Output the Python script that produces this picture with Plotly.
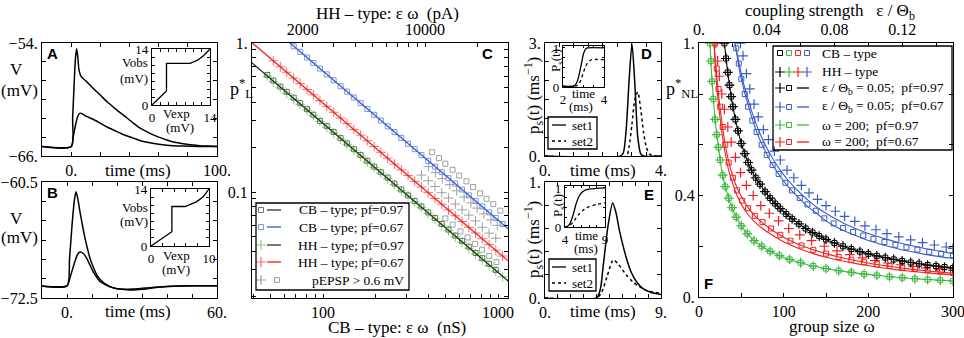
import plotly.graph_objects as go

W, H = 964, 338
SERIF = "Liberation Serif"
SANS = "Liberation Sans"

# ---------------- data ----------------
# Panel A (membrane potential, mV vs ms)
a_t_big = [-20, 0, 1, 2, 3, 3.8, 4.6, 5.4, 7, 10.6, 15, 19.8, 25, 31.2, 37, 42.6, 48, 54, 60, 65.5, 71, 76.9, 82, 88.3, 94, 100]
a_v_big = [-65.0, -65.0, -62.0, -58.5, -55.5, -54.6, -55.6, -56.9, -57.6, -58.1, -58.8, -59.5, -60.3, -61.1, -61.8, -62.5,
           -63.1, -63.6, -64.0, -64.3, -64.55, -64.7, -64.8, -64.9, -64.95, -65.0]
a_t_small = [-20, 0, 1.5, 3, 4.5, 6, 8, 10.6, 15, 19.8, 25, 31.2, 37, 42.6, 48, 54, 60, 65.5, 76.9, 88.3, 100]
a_v_small = [-65.0, -65.0, -63.9, -62.7, -61.8, -61.45, -61.55, -61.8, -62.1, -62.5, -62.95, -63.4, -63.8, -64.1,
             -64.4, -64.6, -64.75, -64.85, -64.95, -65.0, -65.0]
a_in_vexp = [0, 3.5, 3.5, 9.2, 11.0, 12.5, 14]
a_in_vobs = [0, 3.5, 10.4, 10.4, 11.2, 12.4, 14]

# Panel B
b_t_big = [-10, 0, 1, 2, 3, 3.6, 4.3, 5.2, 6.2, 7.2, 8.2, 9.2, 10.5, 11.9, 13.9, 15.9, 17.9, 19.9, 23, 26.5, 30, 33.2,
           36.5, 39.9, 45, 50, 55, 60]
b_v_big = [-71.25, -71.25, -68.5, -65.0, -62.3, -61.5, -62.2, -63.6, -65.0, -66.3, -67.4, -68.4, -69.3, -70.1, -70.75,
           -71.15, -71.4, -71.55, -71.6, -71.57, -71.5, -71.43, -71.36, -71.3, -71.26, -71.24, -71.23, -71.23]
b_t_small = [-10, 0, 1, 1.9, 3.2, 4.2, 5.2, 6.5, 7.9, 9.2, 10.5, 11.9, 13.2, 15.2, 17.2, 19.2, 21.2, 24, 26.5, 30,
             33.2, 36.5, 39.9, 45, 50, 60]
b_v_small = [-71.25, -71.25, -70.6, -69.8, -68.7, -68.0, -67.75, -67.9, -68.4, -69.1, -69.8, -70.35, -70.8, -71.1,
             -71.33, -71.48, -71.57, -71.65, -71.67, -71.6, -71.5, -71.4, -71.3, -71.25, -71.23, -71.23]
b_in_vexp = [0, 3.6, 3.6, 5.9, 7.9, 9.0, 10]
b_in_vobs = [0, 3.5, 9.7, 9.7, 10.9, 12.1, 14]

# Panel C (log-log), x = CB-type eps*omega (nS)
c_x = [40, 44, 48, 52, 57, 62, 68, 74, 81, 88, 96, 105, 115, 126, 137, 150, 164, 179, 196, 214, 234, 256, 280, 306,
       334, 365, 399, 436, 477, 521, 570, 623, 681, 744, 813, 889, 971, 1062]
c_cb97 = [None, None, 0.61, 0.56, 0.51, 0.47, 0.43, 0.395, 0.36, 0.33, 0.30, 0.277, 0.253, 0.23, 0.212, 0.194, 0.177,
          0.162, 0.148, 0.136, 0.125, 0.114, 0.104, 0.095, 0.087, 0.08, 0.073, 0.067, 0.061, 0.056, 0.051, 0.047,
          0.043, 0.039, 0.036, 0.033, 0.030, None]
c_hh97 = [None, None, 0.6, 0.55, 0.5, 0.46, 0.42, 0.388, 0.355, 0.325, 0.298, 0.272, 0.249, 0.227, 0.209, 0.191, 0.174,
          0.159, 0.146, 0.134, 0.123, 0.112, 0.102, 0.094, 0.086, 0.079, 0.072, 0.066, 0.06, 0.055, 0.05, 0.046,
          0.042, 0.0385, 0.035, 0.032, 0.0295, 0.027]
c_cb67 = [None, None, None, None, None, None, 0.95, 0.874, 0.80, 0.735, 0.674, 0.616, 0.563, 0.513, 0.472, 0.431,
          0.395, 0.361, 0.33, 0.302, 0.276, 0.253, 0.231, 0.211, 0.194, 0.177, 0.162, 0.148, 0.136, 0.124, 0.114,
          0.104, 0.095, 0.087, 0.08, 0.073, 0.067, 0.061]
c_hh67 = [None, None, None, 0.76, 0.693, 0.637, 0.581, 0.534, 0.488, 0.449, 0.411, 0.376, 0.343, 0.313, 0.288, 0.263,
          0.241, 0.221, 0.202, 0.185, 0.169, 0.154, 0.141, 0.129, 0.118, 0.108, 0.099, 0.0906, 0.0828, 0.0758,
          0.0693, 0.0634, 0.058, 0.0531, 0.0486, 0.0444, 0.0407, 0.0372]
c_pepsp_plus_x = [365, 399, 436, 477, 521, 570, 623, 681, 744, 813, 889, 971, 400, 440, 480, 530, 580, 640, 700, 760,
                  830, 910, 990]
c_pepsp_plus_y = [0.130, 0.119, 0.109, 0.099, 0.091, 0.083, 0.076, 0.070, 0.064, 0.058, 0.053, 0.049, 0.148, 0.135,
                  0.123, 0.112, 0.102, 0.0926, 0.0846, 0.078, 0.0714, 0.0651, 0.0598]
c_pepsp_sq_x = [420, 460, 500, 550, 600, 660, 720, 790, 860, 940, 1030, 500, 550, 610, 670, 740, 810, 890, 980]
c_pepsp_sq_y = [0.185, 0.169, 0.155, 0.141, 0.129, 0.118, 0.108, 0.098, 0.090, 0.083, 0.075, 0.0665, 0.0604, 0.0545,
                0.0496, 0.0449, 0.041, 0.0373, 0.0339]
c_line_x = [39, 1150]
c_line_cb97 = [0.741, 0.0251]
c_line_hh67 = [1.013, 0.0343]
c_line_cb67 = [1.66, 0.0563]

# Panel D / E
d_t1 = [0, 2.6, 2.7, 2.8, 2.9, 3.0, 3.1, 3.2, 3.3, 3.4, 4.0]
d_set1 = [0, 0, 0.08, 0.7, 2.0, 2.98, 1.9, 0.5, 0.06, 0, 0]
d_t2 = [0, 2.8, 2.9, 3.0, 3.1, 3.2, 3.3, 3.4, 3.5, 3.6, 3.7, 4.0]
d_set2 = [0, 0, 0.25, 0.85, 1.5, 1.7, 1.25, 0.62, 0.22, 0.06, 0.01, 0]
d_in_t1 = [2, 2.5, 2.6, 2.7, 2.8, 2.9, 3.0, 3.1, 3.2, 4]
d_in_P1 = [0.02, 0.02, 0.05, 0.15, 0.35, 0.6, 0.85, 0.97, 1.0, 1.0]
d_in_t2 = [2, 2.6, 2.7, 2.8, 2.9, 3.0, 3.1, 3.2, 3.3, 3.4, 4]
d_in_P2 = [0.02, 0.02, 0.04, 0.1, 0.22, 0.38, 0.52, 0.62, 0.67, 0.7, 0.7]
e_t1 = [0, 4.0, 4.3, 4.5, 4.9, 5.25, 5.5, 5.8, 6.3, 6.7, 7.1, 7.6, 8.2, 9]
e_set1 = [0, 0, 0.08, 0.26, 0.63, 0.82, 0.74, 0.57, 0.35, 0.22, 0.14, 0.08, 0.05, 0.03]
e_t2 = [0, 4.0, 4.4, 4.8, 5.3, 5.7, 6.3, 6.8, 7.3, 8.0, 9]
e_set2 = [0, 0, 0.05, 0.18, 0.33, 0.29, 0.2, 0.14, 0.1, 0.06, 0.04]
e_in_t = [4, 4.3, 4.6, 5.0, 5.4, 5.8, 6.2, 6.6, 7, 8, 9]
e_in_P1 = [0, 0.02, 0.08, 0.3, 0.6, 0.8, 0.9, 0.95, 0.97, 0.99, 1.0]
e_in_P2 = [0, 0.01, 0.04, 0.12, 0.24, 0.34, 0.42, 0.48, 0.52, 0.58, 0.62]

# Panel F (group size omega)
f_black_w = [30, 32, 34, 36, 38, 40, 43, 46, 50, 54, 58, 62, 67, 72, 78, 84, 90, 96, 103, 110, 118, 126, 134, 142,
             150, 160, 170, 180, 190, 200, 210, 220, 230, 240, 250, 260, 270, 280, 290, 300]
f_black_p = [1.0, 0.94, 0.885, 0.835, 0.79, 0.75, 0.7, 0.655, 0.605, 0.565, 0.53, 0.5, 0.47, 0.445, 0.415, 0.39,
             0.368, 0.348, 0.327, 0.308, 0.288, 0.27, 0.254, 0.24, 0.227, 0.213, 0.2, 0.189, 0.179, 0.17, 0.162,
             0.155, 0.148, 0.142, 0.136, 0.131, 0.126, 0.122, 0.118, 0.114]
f_green_w = [13, 14, 15.5, 17, 19, 21, 23, 25, 28, 31, 35, 39, 44, 50, 57, 65, 74, 84, 95, 107, 120, 135, 150, 165,
             180, 195, 210, 225, 240, 255, 270, 285, 300]
f_green_p = [1.0, 0.93, 0.85, 0.78, 0.7, 0.64, 0.59, 0.54, 0.48, 0.435, 0.39, 0.352, 0.315, 0.28, 0.25, 0.222, 0.2,
             0.18, 0.163, 0.148, 0.135, 0.122, 0.112, 0.104, 0.097, 0.09, 0.085, 0.08, 0.076, 0.072, 0.069, 0.066,
             0.063]
f_red_sq_w = [19, 21, 23, 25, 28, 31, 35, 40, 45, 51, 58, 66, 75, 85, 96, 108, 121, 135, 150, 165, 180, 195, 210, 225,
              240, 255, 270, 285, 300]
f_red_sq_p = [1.0, 0.9, 0.82, 0.75, 0.67, 0.6, 0.53, 0.47, 0.42, 0.38, 0.35, 0.32, 0.295, 0.27, 0.245, 0.222, 0.203,
              0.186, 0.171, 0.158, 0.147, 0.137, 0.129, 0.122, 0.116, 0.11, 0.105, 0.1, 0.095]
f_red_pl_w = [20, 22, 24, 27, 30, 34, 38, 43, 49, 56, 64, 73, 83, 94, 106, 119, 133, 148, 163, 178, 193, 208, 223, 238,
              253, 268, 284, 300]
f_red_pl_p = [1.0, 0.93, 0.87, 0.8, 0.74, 0.67, 0.61, 0.55, 0.49, 0.44, 0.40, 0.36, 0.33, 0.30, 0.27, 0.245, 0.222,
              0.2, 0.182, 0.167, 0.154, 0.143, 0.134, 0.127, 0.121, 0.115, 0.11, 0.105]
f_red_line_w = [17.7, 19, 21, 23, 25, 28, 31, 35, 40, 45, 51, 58, 66, 75, 85, 96, 108, 121, 135, 150, 165, 180, 195,
                210, 225, 240, 255, 270, 285, 300]
f_red_line_a = [1.0, 0.92, 0.83, 0.76, 0.70, 0.625, 0.565, 0.5, 0.445, 0.4, 0.36, 0.325, 0.295, 0.27, 0.247, 0.225,
                0.205, 0.187, 0.171, 0.157, 0.145, 0.135, 0.126, 0.118, 0.111, 0.105, 0.1, 0.095, 0.091, 0.087]
f_red_line_b = [1.0, 0.95, 0.87, 0.8, 0.74, 0.665, 0.6, 0.535, 0.475, 0.43, 0.39, 0.352, 0.32, 0.292, 0.267, 0.243,
                0.222, 0.203, 0.186, 0.171, 0.158, 0.147, 0.137, 0.128, 0.121, 0.114, 0.108, 0.103, 0.098, 0.094]
f_blue_sq_w = [44, 47, 50, 54, 58, 63, 68, 74, 80, 87, 94, 102, 110, 119, 128, 138, 148, 159, 170, 182, 194, 206, 219,
               232, 245, 258, 272, 286, 300]
f_blue_sq_p = [0.98, 0.92, 0.86, 0.8, 0.75, 0.695, 0.65, 0.6, 0.56, 0.52, 0.485, 0.45, 0.42, 0.39, 0.365, 0.34, 0.31,
               0.29, 0.272, 0.256, 0.242, 0.229, 0.217, 0.206, 0.196, 0.187, 0.178, 0.171, 0.165]
f_blue_pl_w = [49, 52, 56, 60, 65, 70, 76, 82, 89, 96, 104, 112, 121, 130, 140, 150, 161, 172, 184, 196, 209, 222, 236,
               250, 264, 278, 292, 300]
f_blue_pl_p = [1.0, 0.95, 0.88, 0.82, 0.76, 0.71, 0.66, 0.62, 0.575, 0.54, 0.5, 0.47, 0.44, 0.41, 0.385, 0.36, 0.338,
               0.318, 0.298, 0.28, 0.265, 0.25, 0.237, 0.225, 0.214, 0.205, 0.197, 0.192]
f_blue_line_w = [42.5, 45, 48, 52, 56, 60, 65, 70, 76, 82, 89, 96, 104, 112, 121, 130, 140, 150, 161, 172, 184, 196,
                 209, 222, 236, 250, 264, 278, 292, 300]
f_blue_line_a = [1.0, 0.95, 0.89, 0.83, 0.78, 0.735, 0.68, 0.635, 0.59, 0.55, 0.51, 0.475, 0.44, 0.41, 0.38, 0.352,
                 0.327, 0.3, 0.278, 0.26, 0.243, 0.228, 0.214, 0.201, 0.189, 0.179, 0.17, 0.162, 0.155, 0.152]
f_blue_line_b = [1.0, 0.96, 0.91, 0.85, 0.8, 0.755, 0.705, 0.66, 0.615, 0.575, 0.535, 0.5, 0.465, 0.435, 0.405, 0.378,
                 0.352, 0.33, 0.308, 0.289, 0.271, 0.255, 0.24, 0.227, 0.214, 0.203, 0.193, 0.184, 0.176, 0.172]

# ---------------- colours ----------------
BLUE = "#3a5cc8"
BLUE_M = "#7b98e6"
RED = "#f02020"
RED_M = "#ff6a6a"
GREEN = "#3fb83f"
GREEN_M = "#86d26a"
DARK = "#1e3a1e"
GRAY = "#a0a0a0"


def dx(a, b):
    return [a / W, b / W]


def dy(top, bot):
    return [1 - bot / H, 1 - top / H]


def px(x):
    return x / W


def py(y):
    return 1 - y / H


def axis(**kw):
    base = dict(showline=True, linecolor="black", linewidth=1.3, ticks="inside", ticklen=4, tickwidth=1,
                tickcolor="black", showgrid=False, zeroline=False, mirror="ticks", automargin=False,
                ticklabeloverflow="allow", tickfont=dict(family=SERIF, size=16, color="black"))
    base.update(kw)
    return base


INS = dict(family=SERIF, size=13, color="black")

fig = go.Figure()


def line(x, y, ax, ay, color="black", width=1.5, dash=None, shape="linear"):
    fig.add_trace(go.Scatter(x=x, y=y, xaxis=ax, yaxis=ay, mode="lines", showlegend=False, hoverinfo="skip",
                             line=dict(color=color, width=width, dash=dash, shape=shape, smoothing=0.7)))


def marks(x, y, ax, ay, symbol, color, size=6, width=1.0):
    fig.add_trace(go.Scatter(x=x, y=y, xaxis=ax, yaxis=ay, mode="markers", showlegend=False, hoverinfo="skip",
                             marker=dict(symbol=symbol, size=size, color=color, line=dict(color=color, width=width))))


# A
line(a_t_big, a_v_big, "x", "y", shape="spline")
line(a_t_small, a_v_small, "x", "y", shape="spline")
line(a_in_vexp, a_in_vobs, "x2", "y2", width=1.3)
# B
line(b_t_big, b_v_big, "x3", "y3", shape="spline")
line(b_t_small, b_v_small, "x3", "y3", shape="spline")
line(b_in_vexp, b_in_vobs, "x4", "y4", width=1.3)
# C
marks(c_pepsp_sq_x, c_pepsp_sq_y, "x5", "y5", "square-open", GRAY, size=5)
marks(c_pepsp_plus_x, c_pepsp_plus_y, "x5", "y5", "cross-thin-open", GRAY, size=7, width=1.0)
marks(c_x, c_cb67, "x5", "y5", "square-open", BLUE_M, size=5)
marks(c_x, c_hh67, "x5", "y5", "cross-thin-open", RED_M, size=7, width=1.0)
marks(c_x, c_hh97, "x5", "y5", "cross-thin-open", GREEN_M, size=7, width=1.0)
marks(c_x, c_cb97, "x5", "y5", "square-open", "#5f7f5f", size=5)
line(c_line_x, c_line_cb67, "x5", "y5", color=BLUE, width=1.3)
line(c_line_x, c_line_hh67, "x5", "y5", color=RED, width=1.3)
line(c_line_x, c_line_cb97, "x5", "y5", color=DARK, width=1.3)
fig.add_trace(go.Scatter(x=[3000], y=[0.5], xaxis="x6", yaxis="y5", mode="markers", marker=dict(opacity=0),
                         showlegend=False, hoverinfo="skip"))
# D
line(d_t1, d_set1, "x7", "y7", shape="spline")
line(d_t2, d_set2, "x7", "y7", dash="dot", shape="spline")
line(d_in_t1, d_in_P1, "x8", "y8", width=1.3, shape="spline")
line(d_in_t2, d_in_P2, "x8", "y8", width=1.3, dash="dot", shape="spline")
# E
line(e_t1, e_set1, "x9", "y9", shape="spline")
line(e_t2, e_set2, "x9", "y9", dash="dot", shape="spline")
line(e_in_t, e_in_P1, "x10", "y10", width=1.3, shape="spline")
line(e_in_t, e_in_P2, "x10", "y10", width=1.3, dash="dot", shape="spline")
# F
line(f_blue_line_w, f_blue_line_a, "x11", "y11", color=BLUE, width=1.1, shape="spline")
line(f_blue_line_w, f_blue_line_b, "x11", "y11", color=BLUE, width=1.1, shape="spline")
marks(f_blue_sq_w, f_blue_sq_p, "x11", "y11", "square-open", BLUE, size=5)
marks(f_blue_pl_w, f_blue_pl_p, "x11", "y11", "cross-thin-open", BLUE, size=7, width=1.2)
line(f_red_line_w, f_red_line_a, "x11", "y11", color=RED, width=1.1, shape="spline")
line(f_red_line_w, f_red_line_b, "x11", "y11", color=RED, width=1.1, shape="spline")
marks(f_red_sq_w, f_red_sq_p, "x11", "y11", "square-open", RED, size=5)
marks(f_red_pl_w, f_red_pl_p, "x11", "y11", "cross-thin-open", RED, size=7, width=1.2)
line(f_black_w, f_black_p, "x11", "y11", color="black", width=1.1, shape="spline")
marks(f_black_w, f_black_p, "x11", "y11", "square-open", "black", size=5)
marks(f_black_w, f_black_p, "x11", "y11", "cross-thin-open", "black", size=7, width=1.2)
line(f_green_w, f_green_p, "x11", "y11", color=GREEN, width=1.1, shape="spline")
marks(f_green_w, f_green_p, "x11", "y11", "square-open", GREEN, size=5)
marks(f_green_w, f_green_p, "x11", "y11", "cross-thin-open", GREEN, size=7, width=1.2)
fig.add_trace(go.Scatter(x=[0.05], y=[0.5], xaxis="x12", yaxis="y11", mode="markers", marker=dict(opacity=0),
                         showlegend=False, hoverinfo="skip"))

# legend samples (pixel overlay axis)
leg_sq_x = [261, 261, 277, 780, 789, 798, 807, 789, 789, 789, 789]
leg_sq_y = [210, 227, 280, 53, 53, 53, 53, 88, 107, 125, 142]
leg_sq_c = ["#5f7f5f", BLUE_M, GRAY, "black", GREEN, RED, BLUE, "black", BLUE, GREEN, RED]
leg_pl_x = [261, 261, 261, 780, 789, 798, 807, 780, 780, 780, 780]
leg_pl_y = [245, 262, 280, 72, 72, 72, 72, 88, 107, 125, 142]
leg_pl_c = [GREEN_M, RED_M, GRAY, "black", GREEN, RED, BLUE, "black", BLUE, GREEN, RED]
fig.add_trace(go.Scatter(x=leg_sq_x, y=leg_sq_y, xaxis="x13", yaxis="y13", mode="markers", showlegend=False,
                         hoverinfo="skip", marker=dict(symbol="square-open", size=5, color=leg_sq_c,
                                                       line=dict(color=leg_sq_c, width=1))))
fig.add_trace(go.Scatter(x=leg_pl_x, y=leg_pl_y, xaxis="x13", yaxis="y13", mode="markers", showlegend=False,
                         hoverinfo="skip", marker=dict(symbol="cross-thin-open", size=7, color=leg_pl_c,
                                                       line=dict(color=leg_pl_c, width=1.2))))

layout = dict(
    width=W, height=H, margin=dict(l=0, r=0, t=0, b=0, autoexpand=False), paper_bgcolor="white",
    plot_bgcolor="rgba(0,0,0,0)", showlegend=False, font=dict(family=SERIF, size=16, color="black"),
)

# A
layout["xaxis"] = axis(domain=dx(42, 217), anchor="y", range=[-20, 100],
                       tickvals=[-20, 0, 20, 40, 60, 80, 100], ticktext=["", "0.", "", "", "", "", "100."])
layout["yaxis"] = axis(domain=dy(43, 156), anchor="x", range=[-66.001, -53.999],
                       tickvals=[-66, -64, -62, -60, -58, -56, -54],
                       ticktext=["−66.", "", "", "", "", "", "−54."])
layout["xaxis2"] = axis(domain=dx(152, 210), anchor="y2", range=[0, 14.001], tickvals=[0, 2, 4, 6, 8, 10, 12, 14],
                        ticktext=["0", "", "", "", "", "", "", "14"], ticklen=3, tickfont=INS)
layout["yaxis2"] = axis(domain=dy(49, 105), anchor="x2", range=[0, 14.001], tickvals=[0, 2, 4, 6, 8, 10, 12, 14],
                        ticktext=["0", "", "", "", "", "", "", "14"], ticklen=3, tickfont=INS)
# B
layout["xaxis3"] = axis(domain=dx(42, 217), anchor="y3", range=[-10, 60.001],
                        tickvals=[-10, 0, 10, 20, 30, 40, 50, 60], ticktext=["", "0.", "", "", "", "", "", "60."])
layout["yaxis3"] = axis(domain=dy(182, 298), anchor="x3", range=[-72.501, -60.499],
                        tickvals=[-72.5, -70.5, -68.5, -66.5, -64.5, -62.5, -60.5],
                        ticktext=["−72.5", "", "", "", "", "", "−60.5"])
layout["xaxis4"] = axis(domain=dx(151, 209), anchor="y4", range=[0, 10.001], tickvals=[0, 2, 4, 6, 8, 10],
                        ticktext=["0", "", "", "", "", "10"], ticklen=3, tickfont=INS)
layout["yaxis4"] = axis(domain=dy(189, 246), anchor="x4", range=[0, 14.001], tickvals=[0, 2, 4, 6, 8, 10, 12, 14],
                        ticktext=["0", "", "", "", "", "", "", "14"], ticklen=3, tickfont=INS)
# C
c_minor_x = [40, 50, 60, 70, 80, 90, 100, 200, 300, 400, 500, 600, 700, 800, 900, 1000]
layout["xaxis5"] = axis(domain=dx(252, 508), anchor="y5", type="log", range=[1.594, 3.057], mirror=False,
                        tickvals=c_minor_x, ticktext=["100" if v == 100 else ("1000" if v == 1000 else "")
                                                      for v in c_minor_x])
c_minor_y = [0.02, 0.03, 0.04, 0.05, 0.06, 0.07, 0.08, 0.09, 0.1, 0.2, 0.3, 0.4, 0.5, 0.6, 0.7, 0.8, 0.9, 1.0]
layout["yaxis5"] = axis(domain=dy(43, 298), anchor="x5", type="log", range=[-1.711, 0.0002],
                        tickvals=c_minor_y, ticktext=["0.1" if v == 0.1 else ("1." if v == 1.0 else "")
                                                      for v in c_minor_y])
c_top = [2000, 3000, 4000, 5000, 6000, 7000, 8000, 9000, 10000, 20000]
layout["xaxis6"] = axis(overlaying="x5", side="top", anchor="y5", type="log", range=[3.011, 4.474], mirror=False,
                        tickvals=c_top, ticktext=["2000" if v == 2000 else ("10000" if v == 10000 else "")
                                                  for v in c_top])
# D
layout["xaxis7"] = axis(domain=dx(545, 661), anchor="y7", range=[0, 4.001],
                        tickvals=[0, 0.5, 1, 1.5, 2, 2.5, 3, 3.5, 4], ticktext=["0.", "", "", "", "", "", "", "", "4."])
layout["yaxis7"] = axis(domain=dy(43, 156), anchor="x7", range=[0, 3.002],
                        tickvals=[0, 0.5, 1, 1.5, 2, 2.5, 3], ticktext=["0.", "", "", "", "", "", "3."])
layout["xaxis8"] = axis(domain=dx(563, 604), anchor="y8", range=[2, 4.001], tickvals=[2, 2.5, 3, 3.5, 4],
                        ticktext=["2", "", "", "", "4"], ticklen=2, tickfont=INS)
layout["yaxis8"] = axis(domain=dy(46, 87), anchor="x8", range=[0, 1.05], tickvals=[0, 0.25, 0.5, 0.75, 1],
                        ticktext=["0", "", "", "", "1"], ticklen=2, tickfont=INS)
# E
layout["xaxis9"] = axis(domain=dx(545, 661), anchor="y9", range=[0, 9.001], tickvals=list(range(10)),
                        ticktext=["0.", "", "", "", "", "", "", "", "", "9."])
layout["yaxis9"] = axis(domain=dy(182, 298), anchor="x9", range=[0, 1.001],
                        tickvals=[0, 0.2, 0.4, 0.6, 0.8, 1.0], ticktext=["0.", "", "", "", "", "1."])
layout["xaxis10"] = axis(domain=dx(565, 605), anchor="y10", range=[4, 9.001], tickvals=[4, 5, 6, 7, 8, 9],
                         ticktext=["4", "", "", "", "", "9"], ticklen=2, tickfont=INS)
layout["yaxis10"] = axis(domain=dy(186, 227), anchor="x10", range=[0, 1.05], tickvals=[0, 0.25, 0.5, 0.75, 1],
                         ticktext=["0", "", "", "", "1"], ticklen=2, tickfont=INS)
# F
layout["xaxis11"] = axis(domain=dx(699, 953), anchor="y11", range=[0, 300.01], mirror=False,
                         tickvals=[0, 50, 100, 150, 200, 250, 300], ticktext=["0", "", "100", "", "200", "", "300"])
layout["yaxis11"] = axis(domain=dy(43, 297), anchor="x11", range=[0, 1.001],
                         tickvals=[0, 0.2, 0.4, 0.6, 0.8, 1.0], ticktext=["0.", "", "0.4", "", "", "1."])
layout["xaxis12"] = axis(overlaying="x11", side="top", anchor="y11", range=[0, 0.15], mirror=False,
                         tickvals=[0, 0.02, 0.04, 0.06, 0.08, 0.10, 0.12, 0.14],
                         ticktext=["0.", "", "0.04", "", "0.08", "", "0.12", ""])
# pixel overlay
layout["xaxis13"] = dict(domain=[0, 1], range=[0, W], visible=False, anchor="y13", automargin=False)
layout["yaxis13"] = dict(domain=[0, 1], range=[H, 0], visible=False, anchor="x13", automargin=False)

fig.update_layout(**layout)

# ---------------- annotations & shapes ----------------
ann = []


def text(x, y, s, size=17, xanchor="center", yanchor="middle", family=SERIF, angle=0, bold=False, align="center"):
    if bold:
        s = "<b>" + s + "</b>"
    ann.append(dict(x=px(x), y=py(y), xref="paper", yref="paper", text=s, showarrow=False, xanchor=xanchor,
                    yanchor=yanchor, textangle=angle, align=align,
                    font=dict(family=family, size=size, color="black")))


# panel letters
for lx, ly, l in [(52, 53, "A"), (52, 192, "B"), (487, 53, "C"), (646, 53, "D"), (649, 195, "E"), (708, 283, "F")]:
    text(lx, ly, l, size=15, family=SANS, bold=True)

# A / B labels
text(16, 70, "V")
text(19, 91, "(mV)")
text(16, 218, "V")
text(19, 237, "(mV)")
text(138, 170, "time (ms)")
text(138, 311, "time (ms)")
text(150, 63, "Vobs", size=13, xanchor="right")
text(150, 78, "(mV)", size=13, xanchor="right")
text(176, 113, "Vexp", size=13)
text(180, 127, "(mV)", size=13)
text(150, 207, "Vobs", size=13, xanchor="right")
text(150, 221, "(mV)", size=13, xanchor="right")
text(176, 255, "Vexp", size=13)
text(176, 269, "(mV)", size=13)

# C labels
text(387, 14, "HH – type: ε ω\u00a0 (pA)")
text(397, 327, "CB – type: ε ω\u00a0 (nS)")
text(241, 88, "p<sup>*</sup><sub>L</sub>", size=18)
c_leg_text = ["CB – type; pf=0.97", "CB – type; pf=0.67", "HH – type; pf=0.97", "HH – type; pf=0.67",
              "pEPSP > 0.6 mV"]
for t, yy in zip(c_leg_text, [210, 227, 245, 262, 280]):
    text(406, yy, t, size=13.5, xanchor="right")

# D / E labels
text(603, 170, "time (ms)")
text(603, 311, "time (ms)")
text(533, 96, "p<sub>s</sub>(t) (ms<sup>−1</sup>)", angle=-90)
text(533, 240, "p<sub>s</sub>(t) (ms<sup>−1</sup>)", angle=-90)
text(556, 61, "P<sub>s</sub>(t)", size=13, angle=-90)
text(558, 206, "P<sub>s</sub>(t)", size=13, angle=-90)
text(583, 94, "time", size=13)
text(581, 107, "(ms)", size=13)
text(586, 235, "time", size=13)
text(586, 248, "(ms)", size=13)
text(570, 125, "set1", size=13, xanchor="left")
text(570, 141, "set2", size=13, xanchor="left")
text(570, 267, "set1", size=13, xanchor="left")
text(570, 283, "set2", size=13, xanchor="left")

# F labels
text(830, 12, "coupling strength\u00a0\u00a0 ε / Θ<sub>b</sub>")
text(832, 326, "group size ω")
text(682, 88, "p<sup>*</sup><sub>NL</sub>", size=18)
f_leg_text = ["CB – type", "HH – type", "ε / Θ<sub>b</sub> = 0.05;\u00a0 pf=0.97",
              "ε / Θ<sub>b</sub> = 0.05;\u00a0 pf=0.67", "ω = 200;\u00a0 pf=0.97", "ω = 200;\u00a0 pf=0.67"]
for t, yy in zip(f_leg_text, [53, 72, 88, 107, 125, 142]):
    text(820, yy, t, size=13.5, xanchor="left")

shapes = []


def rect(x0, y0, x1, y1):
    shapes.append(dict(type="rect", xref="paper", yref="paper", x0=px(x0), y0=py(y1), x1=px(x1), y1=py(y0),
                       line=dict(color="black", width=1.3), fillcolor="rgba(0,0,0,0)"))


def seg(x0, y0, x1, y1, color="black", dash=None, width=1.3):
    shapes.append(dict(type="line", xref="paper", yref="paper", x0=px(x0), y0=py(y0), x1=px(x1), y1=py(y1),
                       line=dict(color=color, width=width, dash=dash)))


rect(256, 203, 409, 290)
seg(267, 210, 281, 210, DARK)
seg(267, 227, 281, 227, BLUE)
seg(267, 245, 281, 245, DARK)
seg(267, 262, 281, 262, RED)
rect(548, 117, 597, 149)
seg(552, 125, 566, 125)
seg(552, 141, 566, 141, dash="dot")
rect(549, 259, 596, 291)
seg(552, 267, 566, 267)
seg(552, 283, 566, 283, dash="dot")
rect(773, 46, 952, 150)
for yy, col in zip([88, 107, 125, 142], ["black", BLUE, GREEN, RED]):
    seg(797, yy, 809, yy, col)

fig.update_layout(annotations=ann, shapes=shapes)
fig.write_html("out.html", config={"displayModeBar": False},
               post_script="document.body.style.margin='0';document.body.style.overflow='hidden';")
